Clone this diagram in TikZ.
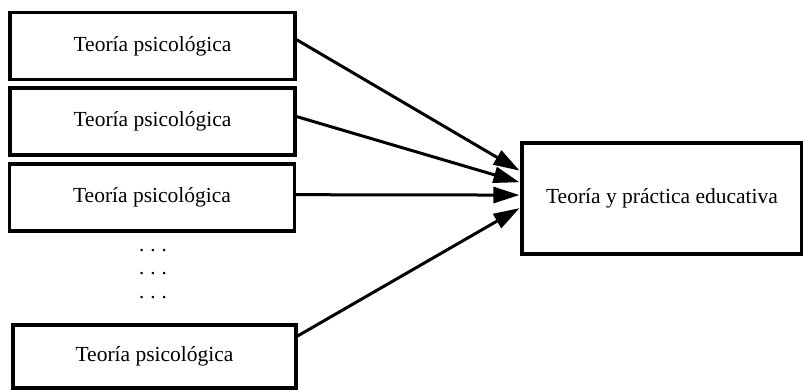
\documentclass[tikz,border=0pt]{standalone}
\usepackage{fontspec}
\setmainfont{Liberation Serif}
\usetikzlibrary{calc,arrows.meta}
\begin{document}
\begin{tikzpicture}[x=1pt,y=-1pt,
  theory/.style={draw,line width=3.2pt,minimum width=285pt,minimum height=67pt,inner sep=0pt,font=\fontsize{21.5}{24}\selectfont},
  result/.style={draw,line width=3.2pt,minimum width=280pt,minimum height=111pt,inner sep=0pt,font=\fontsize{21.5}{24}\selectfont},
  dotsline/.style={inner sep=0pt,font=\fontsize{21}{24}\selectfont},
  conn/.style={line width=3pt,-{Triangle[length=26pt,width=16pt]},shorten >=1pt}]
\useasboundingbox (0,0) rectangle (803,390);
\node[theory] (b1) at (152.5,46) {Teoría psicológica};
\node[theory] (b2) at (152.5,121.5) {Teoría psicológica};
\node[theory] (b3) at (152,197.5) {Teoría psicológica};
\node[theory,minimum width=283pt,minimum height=63pt] (b4) at (154.5,356.5) {Teoría psicológica};
\node[result] (r) at (662,198.5) {Teoría y práctica educativa};
\node[dotsline] (d1) at (153,251) {.\hspace{6pt}.\hspace{6pt}.};
\node[dotsline] (d2) at (153,274) {.\hspace{6pt}.\hspace{6pt}.};
\node[dotsline] (d3) at (153,298) {.\hspace{6pt}.\hspace{6pt}.};
\draw[conn] ($(b1.north east)!0.41!(b1.south east)$) -- ($(r.north west)!0.26!(r.south west)$);
\draw[conn] ($(b2.north east)!0.43!(b2.south east)$) -- ($(r.north west)!0.36!(r.south west)$);
\draw[conn] ($(b3.north east)!0.46!(b3.south east)$) -- ($(r.north west)!0.47!(r.south west)$);
\draw[conn] ($(b4.north east)!0.19!(b4.south east)$) -- ($(r.north west)!0.58!(r.south west)$);
\end{tikzpicture}
\end{document}
